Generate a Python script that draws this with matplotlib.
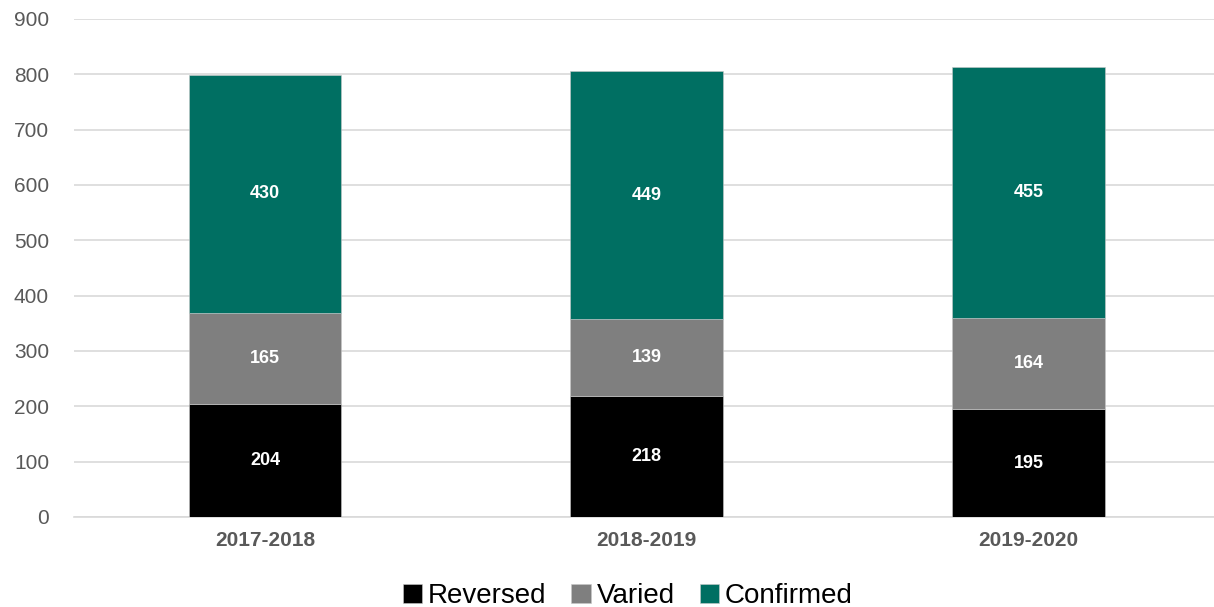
import matplotlib.pyplot as plt
import numpy as np

plt.rcParams['font.family'] = ['Liberation Sans', 'DejaVu Sans']

# 数据
years = ['2017-2018', '2018-2019', '2019-2020']
reversed_ = [204, 218, 195]
varied = [165, 139, 164]
confirmed = [430, 449, 455]

series = [('Reversed', reversed_, '#000000'),
          ('Varied', varied, '#7f7f7f'),
          ('Confirmed', confirmed, '#006f62')]

fig = plt.figure(figsize=(12.14, 6.07), dpi=100)
ax = fig.add_axes([74 / 1214, (607 - 517) / 607, (1214 - 74) / 1214, (517 - 19) / 607])

x = np.arange(len(years))
bottom = np.zeros(len(years))
for name, vals, color in series:
    vals = np.array(vals)
    ax.bar(x, vals, width=0.4, bottom=bottom, color=color, label=name,
           edgecolor='#c8c8c8', linewidth=0.4, zorder=3)
    for xi, b, v in zip(x, bottom, vals):
        ax.text(xi, b + v / 2, str(v), ha='center', va='center',
                color='white', fontsize=13, fontweight='bold', zorder=4)
    bottom += vals

ax.set_ylim(0, 900)
ax.set_xlim(-0.5, 2.485)
ax.set_yticks(range(0, 901, 100))
ax.yaxis.grid(True, color='#d9d9d9', linewidth=1.2, zorder=0)
for s in ['top', 'right', 'left']:
    ax.spines[s].set_visible(False)
ax.spines['bottom'].set_color('#d9d9d9')
ax.spines['bottom'].set_linewidth(1.2)
ax.tick_params(axis='y', length=0, labelsize=15, labelcolor='#595959', pad=18)
ax.tick_params(axis='x', length=0, labelsize=15, labelcolor='#595959', pad=10)
ax.set_xticks(x)
ax.set_xticklabels(years, fontweight='bold')

fig.legend(loc='lower center', bbox_to_anchor=(0.517, -0.045), ncol=3, frameon=False,
           fontsize=20, handlelength=0.7, handleheight=0.7, handletextpad=0.2,
           columnspacing=0.9)

fig.savefig('out.png', dpi=100)
